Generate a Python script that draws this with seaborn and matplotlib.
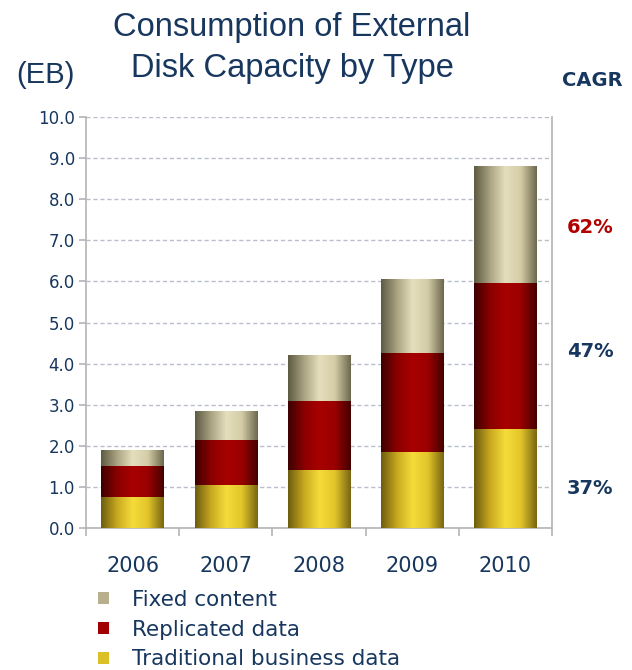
import numpy as np
import pandas as pd
import seaborn as sns
import matplotlib.pyplot as plt
import matplotlib.transforms as mtransforms
from matplotlib.colors import LinearSegmentedColormap
from matplotlib.patches import Patch

years = ['2006', '2007', '2008', '2009', '2010']
traditional = [0.75, 1.05, 1.40, 1.85, 2.40]
replicated = [0.75, 1.10, 1.70, 2.40, 3.55]
fixed = [0.40, 0.70, 1.10, 1.80, 2.85]
series_names = ['Fixed content', 'Replicated data', 'Traditional business data']
cagr_labels = ['62%', '47%', '37%']
cagr_ypos = [7.3, 4.3, 0.95]
cagr_colors = ['#b00000', '#17375e', '#17375e']

navy = '#17375e'

df = pd.DataFrame({'year': years,
                   'traditional': traditional,
                   'replicated': replicated,
                   'fixed': fixed})
df['top_trad'] = df['traditional']
df['top_repl'] = df['top_trad'] + df['replicated']
df['top_fixed'] = df['top_repl'] + df['fixed']

# cylinder-like shading for each series (edge -> highlight -> edge)
shades = {
    'top_fixed': ['#5f5c44', '#a9a382', '#e6dfbd', '#d4cca6', '#6e6a50'],
    'top_repl': ['#3e0000', '#8a0000', '#a80000', '#9a0000', '#460000'],
    'top_trad': ['#6e5e10', '#c8a820', '#f6dc3a', '#e2c52a', '#7a6812'],
}
flat = {'top_fixed': '#b8b08c', 'top_repl': '#a00000', 'top_trad': '#dcc028'}

plt.rcParams['font.family'] = ['DejaVu Sans']
fig = plt.figure(figsize=(6.32, 6.7), dpi=100)
ax = fig.add_axes([86 / 632, 1 - 528 / 670, 466 / 632, 411 / 670])

grad = np.linspace(0, 1, 64)[np.newaxis, :]
for i, col in enumerate(['top_fixed', 'top_repl', 'top_trad']):
    n_before = len(ax.patches)
    sns.barplot(data=df, x='year', y=col, color=flat[col], saturation=1,
                width=0.67, ax=ax, zorder=3 + 2 * i)
    cmap = LinearSegmentedColormap.from_list(col, shades[col])
    for p in ax.patches[n_before:]:
        p.set_zorder(3 + 2 * i)
        x0, w, h = p.get_x(), p.get_width(), p.get_height()
        im = ax.imshow(grad, extent=[x0, x0 + w, 0, h], cmap=cmap,
                       aspect='auto', zorder=3.5 + 2 * i, interpolation='bilinear')
        im.set_clip_path(p)

ax.set_xlim(-0.5, 4.5)
ax.set_ylim(0, 10)
ax.set_yticks(np.arange(0, 10.01, 1.0))
ax.set_yticklabels([f'{v:.1f}' for v in np.arange(0, 10.01, 1.0)])
ax.set_xlabel('')
ax.set_ylabel('')

ax.yaxis.grid(True, linestyle=(0, (3, 2)), color='#b9bdcc', linewidth=1)
ax.set_axisbelow(True)
for s in ['left', 'right', 'bottom']:
    ax.spines[s].set_color('#b4b4b4')
    ax.spines[s].set_linewidth(1.2)
ax.spines['top'].set_visible(False)

ax.tick_params(axis='y', colors='#b4b4b4', labelcolor=navy, labelsize=12,
               length=5, width=1.2, pad=3)
ax.tick_params(axis='x', which='major', length=0, labelcolor=navy,
               labelsize=15, pad=20)
ax.set_xticks(np.arange(-0.5, 4.6, 1.0), minor=True)
ax.tick_params(axis='x', which='minor', length=6, width=1.2, colors='#b4b4b4')

fig.text(292 / 632, 1 - 48 / 670, 'Consumption of External\nDisk Capacity by Type',
         ha='center', va='center', fontsize=23.5, color=navy, linespacing=1.38,
         family=['Liberation Sans', 'DejaVu Sans'])
fig.text(45 / 632, 1 - 75 / 670, '(EB)', ha='center', va='center',
         fontsize=21, color=navy, family=['Liberation Sans', 'DejaVu Sans'])
fig.text(592 / 632, 1 - 80 / 670, 'CAGR', ha='center', va='center',
         fontsize=14, color=navy, fontweight='bold')

trans = mtransforms.blended_transform_factory(fig.transFigure, ax.transData)
for lab, yv, c in zip(cagr_labels, cagr_ypos, cagr_colors):
    ax.text(590 / 632, yv, lab, transform=trans, ha='center', va='center',
            fontsize=14, fontweight='bold', color=c, clip_on=False)

handles = [Patch(facecolor=flat[c], edgecolor='none')
           for c in ['top_fixed', 'top_repl', 'top_trad']]
fig.legend(handles, series_names, loc='upper left',
           bbox_to_anchor=(98 / 632, 1 - 590 / 670), frameon=False,
           fontsize=15.5, labelcolor=navy, handlelength=0.5, handleheight=0.5,
           handletextpad=1.1, labelspacing=0.45, borderpad=0, borderaxespad=0)

fig.savefig('out.png', dpi=100)
